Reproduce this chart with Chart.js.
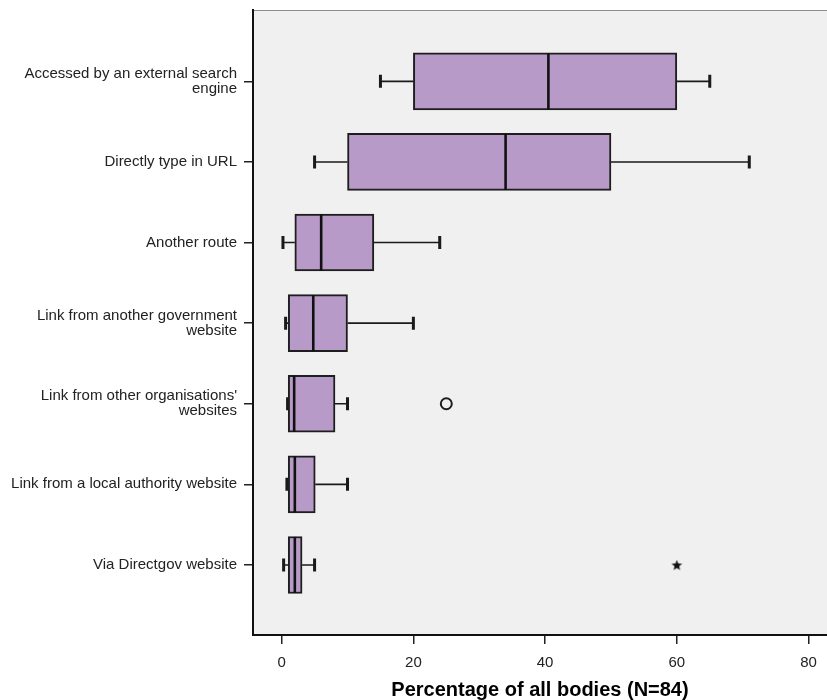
<!DOCTYPE html>
<html>
<head>
<meta charset="utf-8">
<title>Percentage of all bodies</title>
<script src="https://cdn.jsdelivr.net/npm/chart.js@4/dist/chart.umd.min.js"></script>
<style>
  html, body { margin: 0; padding: 0; background: #ffffff; overflow: hidden; }
  #wrap { width: 827px; height: 700px; }
</style>
</head>
<body>
<div id="wrap"><canvas id="chart" width="827" height="700"></canvas></div>
<script>
// Categories, top to bottom
const categories = [
  ['Accessed by an external search', 'engine'],
  'Directly type in URL',
  'Another route',
  ['Link from another government', 'website'],
  ["Link from other organisations'", 'websites'],
  'Link from a local authority website',
  'Via Directgov website'
];

// Box plot statistics (percentage of all bodies)
const lowWhisker  = [15, 5, 0.2, 0.6, 0.9, 0.8, 0.3];
const lowerQuart  = [20, 10, 2, 1, 1, 1, 1];
const medians     = [40.5, 34, 6, 4.8, 1.9, 2, 2];
const upperQuart  = [60, 50, 14, 10, 8.1, 5.1, 3.1];
const highWhisker = [65, 71, 24, 20, 10, 10, 5];

// Outliers (circle) and extreme values (star)
const outlierValues = [25];
const outlierRows   = [4];
const extremeValues = [60];
const extremeRows   = [6];

const xTicks = [0, 20, 40, 60, 80];

const FONT = '"Liberation Sans", Arial, Helvetica, sans-serif';

// Filled five point star marker for the extreme value
function makeStar() {
  const c = document.createElement('canvas');
  c.width = 13; c.height = 13;
  const g = c.getContext('2d');
  g.fillStyle = '#111';
  g.beginPath();
  for (let i = 0; i < 10; i++) {
    const r = i % 2 === 0 ? 5.6 : 2.4;
    const a = -Math.PI / 2 + i * Math.PI / 5;
    const px = 6.5 + r * Math.cos(a), py = 7 + r * Math.sin(a);
    if (i === 0) g.moveTo(px, py); else g.lineTo(px, py);
  }
  g.closePath();
  g.fill();
  return c;
}

// Grey plot background and grey top frame line
const plotFrame = {
  id: 'plotFrame',
  beforeDraw(chart) {
    const { ctx, chartArea: a } = chart;
    ctx.save();
    ctx.fillStyle = '#f0f0f0';
    ctx.fillRect(a.left, a.top, a.right - a.left, a.bottom - a.top);
    ctx.strokeStyle = '#8c8c8c';
    ctx.lineWidth = 1;
    ctx.beginPath();
    ctx.moveTo(a.left, a.top + 0.5);
    ctx.lineTo(a.right, a.top + 0.5);
    ctx.stroke();
    ctx.restore();
  }
};

// Whiskers, caps and median lines, placed through the chart scales
const boxParts = {
  id: 'boxParts',
  beforeDatasetsDraw(chart) {
    const { ctx, scales: { x, y } } = chart;
    ctx.save();
    ctx.strokeStyle = '#1a1a1a';
    categories.forEach((_, i) => {
      const yc = y.getPixelForValue(i);
      ctx.lineWidth = 1.6;
      ctx.beginPath();
      ctx.moveTo(x.getPixelForValue(lowWhisker[i]), yc);
      ctx.lineTo(x.getPixelForValue(lowerQuart[i]), yc);
      ctx.moveTo(x.getPixelForValue(upperQuart[i]), yc);
      ctx.lineTo(x.getPixelForValue(highWhisker[i]), yc);
      ctx.stroke();
      ctx.lineWidth = 3;
      ctx.beginPath();
      [lowWhisker[i], highWhisker[i]].forEach(v => {
        const px = x.getPixelForValue(v);
        ctx.moveTo(px, yc - 6.5);
        ctx.lineTo(px, yc + 6.5);
      });
      ctx.stroke();
    });
    ctx.restore();
  },
  afterDatasetsDraw(chart) {
    const { ctx, scales: { x, y } } = chart;
    const half = 28;
    ctx.save();
    ctx.strokeStyle = '#111';
    ctx.lineWidth = 2.6;
    medians.forEach((m, i) => {
      const yc = y.getPixelForValue(i);
      const px = x.getPixelForValue(m);
      ctx.beginPath();
      ctx.moveTo(px, yc - half);
      ctx.lineTo(px, yc + half);
      ctx.stroke();
    });
    ctx.restore();
  }
};

new Chart(document.getElementById('chart'), {
  type: 'bar',
  data: {
    datasets: [
      {
        type: 'bar',
        indexAxis: 'y',
        data: categories.map((_, i) => ({ x: [lowerQuart[i], upperQuart[i]], y: i })),
        backgroundColor: '#b89ac8',
        borderColor: '#1e1e1e',
        borderWidth: 2,
        borderSkipped: false,
        barThickness: 57
      },
      {
        type: 'scatter',
        data: outlierValues.map((v, i) => ({ x: v, y: outlierRows[i] })),
        pointStyle: 'circle',
        pointRadius: 5.5,
        pointBorderWidth: 2,
        pointBorderColor: '#1e1e1e',
        pointBackgroundColor: 'rgba(0,0,0,0)'
      },
      {
        type: 'scatter',
        data: extremeValues.map((v, i) => ({ x: v, y: extremeRows[i] })),
        pointStyle: makeStar(),
        pointRadius: 6
      }
    ]
  },
  options: {
    responsive: false,
    animation: false,
    indexAxis: 'y',
    layout: { autoPadding: false, padding: { top: 10, right: 0, bottom: 0, left: 0 } },
    plugins: {
      legend: { display: false },
      tooltip: { enabled: false }
    },
    scales: {
      x: {
        type: 'linear',
        position: 'bottom',
        offset: false,
        min: -4.35,
        max: 82.8,
        afterBuildTicks: s => { s.ticks = xTicks.map(v => ({ value: v })); },
        afterFit: s => { s.height = 65; s.paddingLeft = 0; s.paddingRight = 0; },
        grid: {
          offset: false,
          drawOnChartArea: false,
          drawTicks: true,
          tickLength: 9,
          color: '#222',
          lineWidth: 1.5
        },
        border: { display: true, color: '#111', width: 2 },
        ticks: {
          autoSkip: false,
          maxRotation: 0,
          padding: 10,
          color: '#222',
          font: { family: FONT, size: 15 }
        },
        title: {
          display: true,
          text: 'Percentage of all bodies (N=84)',
          color: '#000',
          font: { family: FONT, size: 20, weight: 'bold', lineHeight: 1.0 },
          padding: { top: 4, bottom: 0 }
        }
      },
      y: {
        type: 'linear',
        position: 'left',
        reverse: true,
        offset: false,
        min: -0.885,
        max: 6.869,
        afterBuildTicks: s => { s.ticks = categories.map((_, i) => ({ value: i })); },
        afterFit: s => { s.width = 253; s.paddingTop = 0; s.paddingBottom = 0; },
        grid: {
          offset: false,
          drawOnChartArea: false,
          drawTicks: true,
          tickLength: 9,
          color: '#222',
          lineWidth: 1.5
        },
        border: { display: true, color: '#111', width: 2 },
        ticks: {
          autoSkip: false,
          padding: 7,
          color: '#222',
          font: { family: FONT, size: 15, lineHeight: 1.0 },
          callback: v => categories[v]
        }
      }
    }
  },
  plugins: [plotFrame, boxParts]
});
</script>
</body>
</html>
